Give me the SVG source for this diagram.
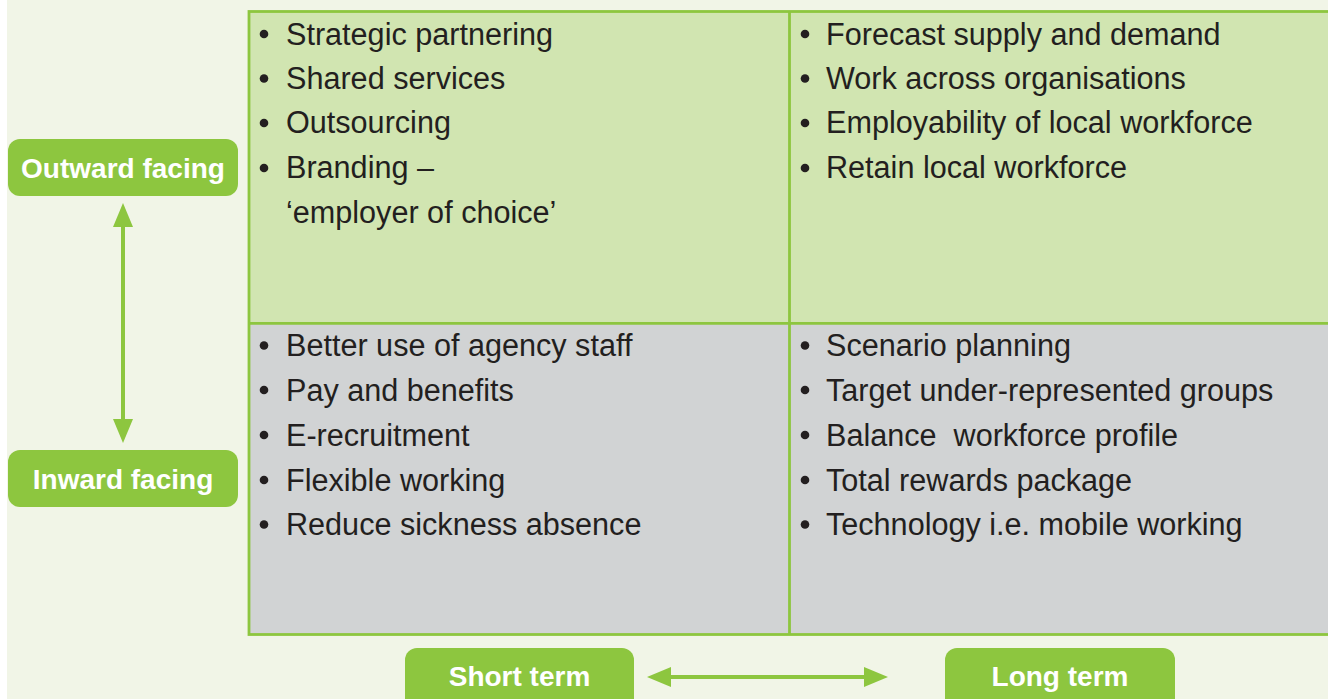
<svg xmlns="http://www.w3.org/2000/svg" width="1328" height="699" viewBox="0 0 1328 699">
  <defs>
    <style>
      .bg { fill: #f1f5e7; }
      .cell { stroke: none; }
      .top { fill: #d1e5b1; }
      .bot { fill: #d1d3d4; }
      .grid { fill: none; stroke: #8dc63f; stroke-width: 2.8; }
      .item { font-family: "Liberation Sans", Arial, sans-serif; font-size: 30.6px; fill: #231f20; white-space: pre; }
      .dot { fill: #231f20; }
      .label rect { fill: #8dc63f; }
      .label text { font-family: "Liberation Sans", Arial, sans-serif; font-size: 28px; font-weight: bold; fill: #ffffff; text-anchor: middle; }
      .conn { stroke: #8dc63f; stroke-width: 4; fill: none; marker-start: url(#head); marker-end: url(#head); }
    </style>
    <marker id="head" markerUnits="userSpaceOnUse" markerWidth="24" markerHeight="20" refX="18" refY="10" orient="auto-start-reverse">
      <path d="M0,0 L24,10 L0,20 z" fill="#8dc63f"/>
    </marker>
  </defs>

  <rect x="0" y="0" width="1328" height="699" fill="#ffffff"/>
  <rect class="bg" x="7" y="0" width="1321" height="699"/>

  <g id="matrix">
    <rect class="cell top" x="249" y="11.5" width="1081" height="312"/>
    <rect class="cell bot" x="249" y="323.5" width="1081" height="311"/>
    <rect class="grid" x="249" y="11.5" width="1090" height="623"/>
    <line class="grid" x1="789.5" y1="11.5" x2="789.5" y2="634.5"/>
    <line class="grid" x1="249" y1="323.3" x2="1330" y2="323.3"/>
  </g>

  <g id="q-outward-short">
    <circle class="dot" cx="264" cy="34" r="4.3"/>
    <circle class="dot" cx="264" cy="78.5" r="4.3"/>
    <circle class="dot" cx="264" cy="123" r="4.3"/>
    <circle class="dot" cx="264" cy="168" r="4.3"/>
    <text class="item" x="286" y="44.5">Strategic partnering</text>
    <text class="item" x="286" y="88.5">Shared services</text>
    <text class="item" x="286" y="133">Outsourcing</text>
    <text class="item" x="286" y="178">Branding –</text>
    <text class="item" x="286" y="223">‘employer of choice’</text>
  </g>

  <g id="q-outward-long">
    <circle class="dot" cx="805" cy="34" r="4.3"/>
    <circle class="dot" cx="805" cy="78.5" r="4.3"/>
    <circle class="dot" cx="805" cy="123" r="4.3"/>
    <circle class="dot" cx="805" cy="168" r="4.3"/>
    <text class="item" x="826" y="44.5">Forecast supply and demand</text>
    <text class="item" x="826" y="88.5">Work across organisations</text>
    <text class="item" x="826" y="133">Employability of local workforce</text>
    <text class="item" x="826" y="178">Retain local workforce</text>
  </g>

  <g id="q-inward-short">
    <circle class="dot" cx="264" cy="345.5" r="4.3"/>
    <circle class="dot" cx="264" cy="390" r="4.3"/>
    <circle class="dot" cx="264" cy="435" r="4.3"/>
    <circle class="dot" cx="264" cy="480" r="4.3"/>
    <circle class="dot" cx="264" cy="524.5" r="4.3"/>
    <text class="item" x="286" y="356">Better use of agency staff</text>
    <text class="item" x="286" y="400.5">Pay and benefits</text>
    <text class="item" x="286" y="445.5">E-recruitment</text>
    <text class="item" x="286" y="490.5">Flexible working</text>
    <text class="item" x="286" y="535">Reduce sickness absence</text>
  </g>

  <g id="q-inward-long">
    <circle class="dot" cx="805" cy="345.5" r="4.3"/>
    <circle class="dot" cx="805" cy="390" r="4.3"/>
    <circle class="dot" cx="805" cy="435" r="4.3"/>
    <circle class="dot" cx="805" cy="480" r="4.3"/>
    <circle class="dot" cx="805" cy="524.5" r="4.3"/>
    <text class="item" x="826" y="356">Scenario planning</text>
    <text class="item" x="826" y="400.5">Target under-represented groups</text>
    <text class="item" x="826" y="445.5">Balance  workforce profile</text>
    <text class="item" x="826" y="490.5">Total rewards package</text>
    <text class="item" x="826" y="535">Technology i.e. mobile working</text>
  </g>

  <g id="outward-facing" class="label">
    <rect x="8" y="139" width="230" height="57" rx="12"/>
    <text x="123" y="177.5">Outward facing</text>
  </g>
  <g id="inward-facing" class="label">
    <rect x="8" y="450" width="230" height="57" rx="12"/>
    <text x="123" y="488.5">Inward facing</text>
  </g>
  <g id="short-term" class="label">
    <rect x="405" y="648" width="229" height="70" rx="12"/>
    <text x="519.5" y="686">Short term</text>
  </g>
  <g id="long-term" class="label">
    <rect x="945" y="648" width="230" height="70" rx="12"/>
    <text x="1060" y="686">Long term</text>
  </g>

  <g id="connectors">
    <line class="conn" x1="123" y1="209" x2="123" y2="437"/>
    <line class="conn" x1="653" y1="677" x2="882" y2="677"/>
  </g>
</svg>
